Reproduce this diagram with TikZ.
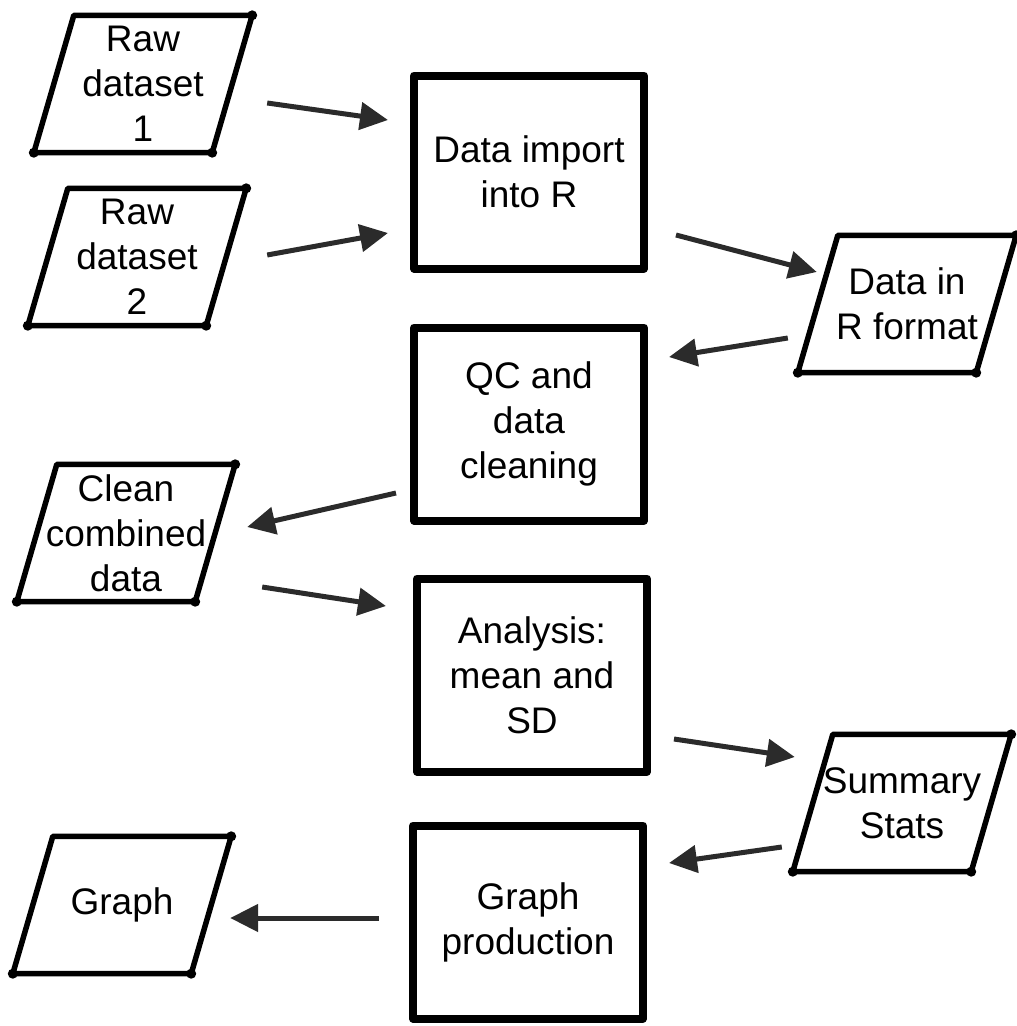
\documentclass[tikz,border=0pt]{standalone}
\usepackage{fontspec}
\setmainfont{Liberation Sans}
\usetikzlibrary{arrows.meta}
\definecolor{arrowgray}{HTML}{2B2B2B}
\begin{document}
\begin{tikzpicture}[x=1pt,y=-1pt,
    every node/.style={font=\fontsize{37}{45}\selectfont, align=center, inner sep=0pt},
    procbox/.style={draw, line width=8pt, line join=round, minimum width=230pt, minimum height=193pt},
    databox/.style={minimum width=178pt, minimum height=137pt},
    arr/.style={-{Triangle[length=28pt,width=27pt]}, line width=5pt, draw=arrowgray}]
      \useasboundingbox (0,0) rectangle (1017,1026);
      \draw
        (143,84) node[databox] (raw1){Raw\\dataset\\1}
        (137,257) node[databox] (raw2){Raw\\dataset\\2}
        (529,172) node[procbox] (imp){Data import\\into R}
        (907,304) node[databox] (inr){Data in\\R format}
        (529,424) node[procbox] (qc){QC and\\data\\cleaning}
        (126,533) node[databox] (clean){Clean\\combined\\data}
        (532,675) node[procbox] (ana){Analysis:\\mean and\\SD}
        (902,803) node[databox] (stats){Summary\\Stats}
        (528,922) node[procbox] (gprod){Graph\\production}
        (122,905) node[databox] (graph){Graph};
      \foreach \n in {raw1,raw2,inr,clean,stats,graph} {
        \draw[line width=5.5pt, line join=round]
          ([xshift=20pt]\n.north west) -- ([xshift=20pt]\n.north east)
          -- ([xshift=-20pt]\n.south east) -- ([xshift=-20pt]\n.south west) -- cycle;
        \fill ([xshift=-20pt]\n.south west) circle (5pt)
          ([xshift=-20pt]\n.south east) circle (5pt)
          ([xshift=20pt]\n.north east) circle (5pt);
      }
      \begin{scope}[arr]
        \draw ([shift={(35,19)}]raw1.east) to ([shift={(-22,-52)}]imp.west);
        \draw ([shift={(41,-2)}]raw2.east) to ([shift={(-22,61)}]imp.west);
        \draw ([shift={(28,63)}]imp.east) to ([shift={(-1,-32)}]inr.west);
        \draw ([shift={(-30,34)}]inr.west) to ([shift={(21,-67)}]qc.east);
        \draw ([shift={(-14,69)}]qc.west) to ([shift={(32,-6)}]clean.east);
        \draw ([shift={(47,54)}]clean.east) to ([shift={(-27,-69)}]ana.west);
        \draw ([shift={(23,64)}]ana.east) to ([shift={(-18,-46)}]stats.west);
        \draw ([shift={(-31,44)}]stats.west) to ([shift={(22,-59)}]gprod.east);
        \draw ([shift={(-30,-4)}]gprod.west) to ([shift={(19,13)}]graph.east);
      \end{scope}
    \end{tikzpicture}
\end{document}
